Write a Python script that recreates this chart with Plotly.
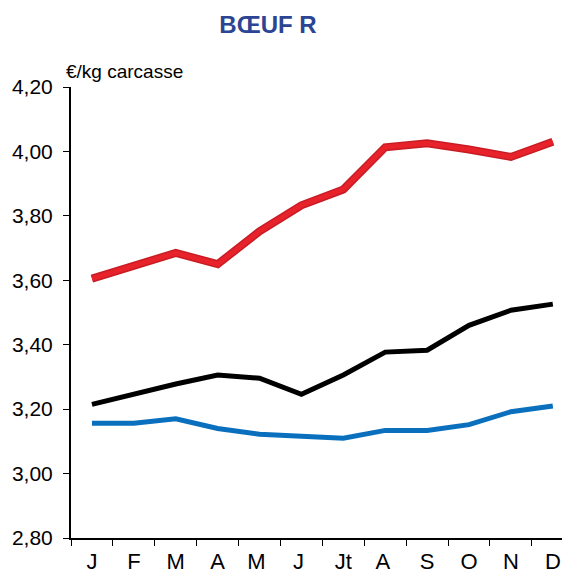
import plotly.graph_objects as go

months = ["J", "F", "M", "A", "M ", "J ", "Jt", "A ", "S", "O", "N", "D"]
red_values = [3.605, 3.645, 3.685, 3.650, 3.752, 3.833, 3.882, 4.013, 4.025, 4.006, 3.983, 4.030]
black_values = [3.215, 3.247, 3.278, 3.306, 3.296, 3.246, 3.306, 3.377, 3.383, 3.460, 3.507, 3.526]
blue_values = [3.156, 3.156, 3.170, 3.140, 3.122, 3.116, 3.110, 3.134, 3.134, 3.152, 3.192, 3.210]
y_ticks = [2.8, 3.0, 3.2, 3.4, 3.6, 3.8, 4.0, 4.2]

FONT = "Liberation Sans, Arial, sans-serif"
W, H = 562, 568  # page has an 8px body offset

fig = go.Figure()
fig.add_trace(go.Scatter(x=months, y=blue_values, mode="lines",
                         line=dict(color="#0a70bd", width=5), hoverinfo="skip"))
fig.add_trace(go.Scatter(x=months, y=black_values, mode="lines",
                         line=dict(color="#000000", width=5), hoverinfo="skip"))
fig.add_trace(go.Scatter(x=months, y=red_values, mode="lines",
                         line=dict(color="#c81c24", width=8), hoverinfo="skip"))
fig.add_trace(go.Scatter(x=months, y=red_values, mode="lines",
                         line=dict(color="#e8222b", width=5), hoverinfo="skip"))

fig.update_layout(
    width=W, height=H,
    margin=dict(l=63, r=0, t=79, b=38),
    paper_bgcolor="white", plot_bgcolor="white",
    showlegend=False,
    separators=", ",
    font=dict(family=FONT, color="black", size=21),
    title=dict(text="<b>BŒUF R</b>", x=260 / W, xanchor="center",
               y=1 - 17 / H, yanchor="middle", xref="container", yref="container",
               font=dict(family=FONT, size=24, color="#2b4594")),
    xaxis=dict(
        type="category", range=[-0.5, 11.41], automargin=False,
        showline=True, linecolor="black", linewidth=2,
        ticks="outside", ticklen=6, tickwidth=1, tickcolor="black",
        tickson="boundaries", showgrid=False, zeroline=False,
        tickfont=dict(family=FONT, size=22),
        ticklabelstandoff=3,
    ),
    yaxis=dict(
        range=[2.8, 4.2], tickvals=y_ticks, tickformat=".2f", automargin=False,
        showline=True, linecolor="black", linewidth=2,
        ticks="outside", ticklen=6, tickwidth=1, tickcolor="black",
        showgrid=False, zeroline=False,
        tickfont=dict(family=FONT, size=21),
        ticklabelstandoff=6,
    ),
    annotations=[dict(text="€/kg carcasse", xref="paper", yref="paper",
                      x=-7 / 499, y=1 + 16 / 451, xanchor="left", yanchor="middle",
                      showarrow=False, font=dict(family=FONT, size=19, color="black"))],
)

fig.write_html("out.html")
